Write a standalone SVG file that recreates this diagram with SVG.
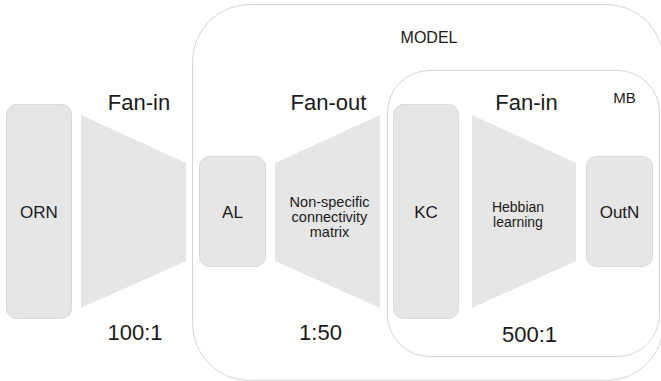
<svg xmlns="http://www.w3.org/2000/svg" width="661" height="381" viewBox="0 0 661 381">
<style>
.box{fill:#e6e6e6;stroke:#d9d9d9;stroke-width:1}
.trap{fill:#e6e6e6;stroke:none}
.cont{fill:none;stroke:#d6d6d6;stroke-width:1}
text{font-family:"Liberation Sans",Arial,sans-serif;fill:#1a1a1a;text-anchor:middle}
.big{font-size:22px}
.lbl{font-size:17px}
.sm{font-size:14.5px}
.hb{font-size:14px}
.hd{font-size:16px}
</style>
<rect width="661" height="381" fill="#ffffff"/>
<g id="model">
<rect class="cont" x="192.5" y="4.5" width="471" height="376" rx="57" ry="57"/>
<text class="hd" x="429" y="43">MODEL</text>
</g>
<g id="mb">
<rect class="cont" x="387.5" y="70.5" width="272" height="286" rx="42" ry="42"/>
<text x="624.5" y="103" style="font-size:15px">MB</text>
</g>
<g id="orn">
<rect class="box" x="6.5" y="104.5" width="65" height="214" rx="10" ry="10"/>
<text class="lbl" x="39" y="218">ORN</text>
</g>
<g id="fanin1">
<polygon class="trap" points="81,115 186,163 186,261 81,308"/>
<text class="big" x="139" y="110">Fan-in</text>
<text class="big" x="135" y="340">100:1</text>
</g>
<g id="al">
<rect class="box" x="199.5" y="156.5" width="66" height="110" rx="10" ry="10"/>
<text class="lbl" x="232.5" y="218">AL</text>
</g>
<g id="fanout">
<polygon class="trap" points="275,163 380,115 380,308 275,261"/>
<text class="big" x="328.5" y="110">Fan-out</text>
<text class="sm" x="329.5" y="207">Non-specific</text>
<text class="sm" x="329.5" y="222">connectivity</text>
<text class="sm" x="329.5" y="237">matrix</text>
<text class="big" x="320.5" y="340">1:50</text>
</g>
<g id="kc">
<rect class="box" x="393.5" y="104.5" width="65" height="214" rx="10" ry="10"/>
<text class="lbl" x="426" y="218">KC</text>
</g>
<g id="fanin2">
<polygon class="trap" points="472,115 576,163 576,261 472,308"/>
<text class="big" x="526.5" y="110">Fan-in</text>
<text class="hb" x="518" y="212">Hebbian</text>
<text class="hb" x="518" y="227">learning</text>
<text class="big" x="529.5" y="342">500:1</text>
</g>
<g id="outn">
<rect class="box" x="586.5" y="156.5" width="66" height="110" rx="10" ry="10"/>
<text class="lbl" x="619.5" y="218">OutN</text>
</g>
<g id="connectors"></g>
</svg>
